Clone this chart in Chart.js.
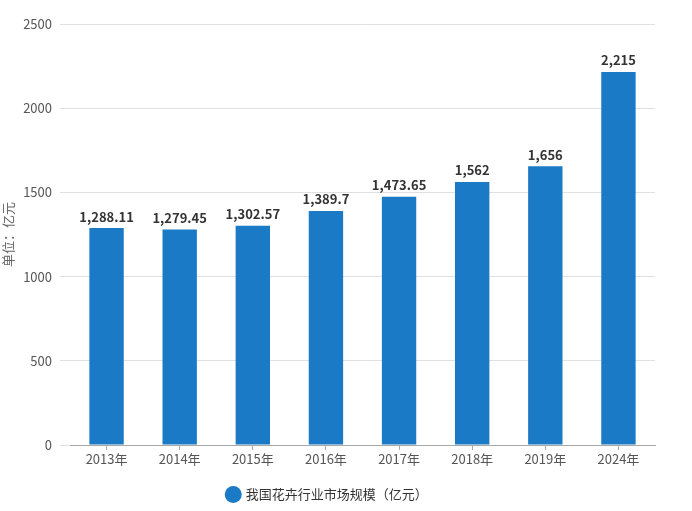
<!DOCTYPE html>
<html>
<head>
<meta charset="utf-8">
<script src="https://cdn.jsdelivr.net/npm/chart.js@4/dist/chart.umd.min.js"></script>
<style>
  html, body { margin: 0; padding: 0; background: #fff; }
  #wrap { width: 692px; height: 511px; position: relative; }
</style>
</head>
<body>
<div id="wrap"><canvas id="chart"></canvas></div>
<script>
// 数据
const years = ['2013年', '2014年', '2015年', '2016年', '2017年', '2018年', '2019年', '2024年'];
const marketSize = [1288.11, 1279.45, 1302.57, 1389.7, 1473.65, 1562, 1656, 2215];
const seriesName = '我国花卉行业市场规模（亿元）';
const yTicks = [0, 500, 1000, 1500, 2000, 2500];

const fontFamily = '"Microsoft YaHei", "Noto Sans CJK SC", "DejaVu Sans", sans-serif';

// bar value labels, drawn above each bar
const valueLabels = {
  id: 'valueLabels',
  afterDatasetsDraw(chart) {
    const ctx = chart.ctx;
    const meta = chart.getDatasetMeta(0);
    ctx.save();
    ctx.font = 'bold 13px ' + fontFamily;
    ctx.fillStyle = '#333333';
    ctx.textAlign = 'center';
    ctx.textBaseline = 'bottom';
    meta.data.forEach((bar, i) => {
      const txt = marketSize[i].toLocaleString('en-US', {maximumFractionDigits: 2});
      ctx.fillText(txt, bar.x, bar.y - 5);
    });
    ctx.restore();
  }
};

new Chart('chart', {
  type: 'bar',
  data: {
    labels: years,
    datasets: [{
      label: seriesName,
      data: marketSize,
      backgroundColor: '#1a7ac5',
      borderWidth: 0,
      categoryPercentage: 1,
      barPercentage: 0.47
    }]
  },
  options: {
    responsive: true,
    maintainAspectRatio: false,
    animation: false,
    layout: { padding: { top: 24, right: 37, left: 0, bottom: 0 } },
    scales: {
      x: {
        grid: { display: true, drawOnChartArea: false, offset: false, tickLength: 5, color: '#a8a8a8' },
        border: { color: '#a8a8a8', width: 1 },
        ticks: { color: '#555', font: { size: 13, family: fontFamily }, padding: 1 },
        afterFit(scale) { scale.height = 33; }
      },
      y: {
        min: 0,
        max: 2500,
        afterBuildTicks(scale) { scale.ticks = yTicks.map(v => ({ value: v })); },
        grid: { color: '#e0e0e0', tickLength: 10 },
        border: { display: false },
        ticks: {
          color: '#555',
          font: { size: 13, family: fontFamily },
          padding: 8,
          callback: v => String(v)
        },
        title: {
          display: true,
          text: '单位：亿元',
          color: '#666',
          font: { size: 13, family: fontFamily },
          padding: 0
        },
        afterFit(scale) { scale.width = 70; }
      }
    },
    plugins: {
      legend: {
        position: 'bottom',
        labels: {
          usePointStyle: true,
          pointStyle: 'circle',
          boxWidth: 12,
          boxHeight: 12,
          color: '#333',
          font: { size: 13, family: fontFamily },
          padding: 10
        }
      },
      tooltip: { enabled: false }
    }
  },
  plugins: [valueLabels]
});
</script>
</body>
</html>
